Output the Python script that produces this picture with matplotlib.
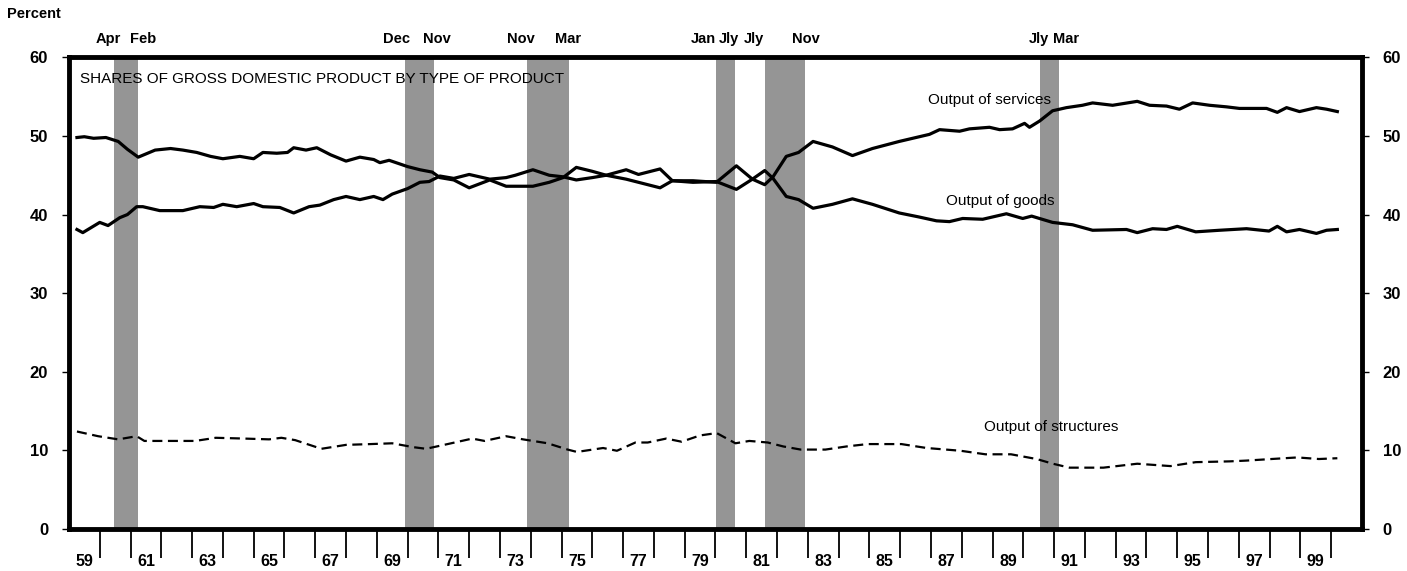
import numpy as np
import matplotlib.pyplot as plt

plt.rcParams['font.family'] = ['Liberation Sans', 'DejaVu Sans']

# recession periods (decimal years) and the month labels printed above them
rec_start = [1960.45, 1969.93, 1973.87, 1980.03, 1981.60, 1990.55]
rec_end = [1961.25, 1970.85, 1975.25, 1980.65, 1982.92, 1991.15]
month_labels = ['Apr', 'Feb', 'Dec', 'Nov', 'Nov', 'Mar', 'Jan', 'Jly', 'Jly', 'Nov', 'Jly', 'Mar']
month_label_x = [1960.27, 1961.40, 1969.65, 1970.95, 1973.68, 1975.20,
                 1980.00, 1980.10, 1981.25, 1982.93, 1990.50, 1991.40]
month_label_ha = ['center', 'center', 'center', 'center', 'center', 'center',
                  'right', 'left', 'center', 'center', 'center', 'center']

# output of services, percent of GDP
svc_t = [1959.26, 1959.45, 1960.0, 1960.27, 1960.65, 1960.9, 1961.2, 1961.4, 1961.95, 1962.7,
         1963.25, 1963.7, 1964.0, 1964.45, 1965.0, 1965.3, 1965.85, 1966.3, 1966.8, 1967.15,
         1967.6, 1968.0, 1968.45, 1968.9, 1969.2, 1969.5, 1970.0, 1970.4, 1970.7, 1971.05,
         1971.5, 1972.0, 1972.67, 1973.2, 1973.5, 1974.07, 1974.6, 1975.05, 1975.48, 1976.0,
         1976.45, 1977.1, 1977.5, 1978.2, 1978.6, 1979.27, 1980.03, 1980.68, 1981.2, 1981.6,
         1981.87, 1982.3, 1982.7, 1983.17, 1983.8, 1984.45, 1985.1, 1985.97, 1986.95, 1987.28,
         1987.93, 1988.25, 1988.9, 1989.23, 1989.65, 1990.04, 1990.2, 1990.53, 1990.95, 1991.4,
         1991.92, 1992.25, 1992.9, 1993.7, 1994.1, 1994.65, 1995.07, 1995.5, 1996.05, 1996.6,
         1997.02, 1997.9, 1998.25, 1998.55, 1998.97, 1999.52, 1999.85, 2000.2]
svc_v = [38.1, 37.7, 39.0, 38.6, 39.6, 40.0, 41.0, 41.0, 40.5, 40.5,
         41.0, 40.9, 41.3, 41.0, 41.4, 41.0, 40.9, 40.2, 41.0, 41.2,
         41.9, 42.3, 41.9, 42.3, 41.9, 42.6, 43.3, 44.1, 44.2, 44.9,
         44.6, 45.1, 44.5, 44.7, 45.0, 45.7, 45.0, 44.8, 44.4, 44.7,
         45.0, 44.5, 44.1, 43.4, 44.3, 44.3, 44.1, 46.2, 44.5, 43.8,
         44.8, 47.4, 47.9, 49.3, 48.6, 47.5, 48.4, 49.3, 50.2, 50.8,
         50.6, 50.9, 51.1, 50.8, 50.9, 51.6, 51.1, 51.9, 53.2, 53.6,
         53.9, 54.2, 53.9, 54.4, 53.9, 53.8, 53.4, 54.2, 53.9, 53.7,
         53.5, 53.5, 53.0, 53.6, 53.1, 53.6, 53.4, 53.1]

# output of goods, percent of GDP
gds_t = [1959.26, 1959.5, 1959.8, 1960.2, 1960.6, 1960.9, 1961.25, 1961.8, 1962.3, 1962.7,
         1963.15, 1963.6, 1964.0, 1964.55, 1965.0, 1965.3, 1965.75, 1966.1, 1966.3, 1966.7,
         1967.05, 1967.5, 1968.0, 1968.45, 1968.9, 1969.1, 1969.4, 1970.0, 1970.4, 1970.8,
         1971.05, 1971.5, 1972.0, 1972.67, 1973.2, 1973.5, 1974.07, 1974.6, 1975.05, 1975.48,
         1976.0, 1976.45, 1977.1, 1977.5, 1978.2, 1978.6, 1979.27, 1980.03, 1980.68, 1981.2,
         1981.6, 1981.87, 1982.3, 1982.7, 1983.17, 1983.8, 1984.45, 1985.1, 1985.97, 1986.6,
         1987.18, 1987.6, 1988.03, 1988.68, 1989.45, 1989.98, 1990.27, 1990.95, 1991.6, 1992.25,
         1993.35, 1993.7, 1994.2, 1994.65, 1995.0, 1995.6, 1996.37, 1997.25, 1997.98, 1998.25,
         1998.55, 1998.97, 1999.52, 1999.85, 2000.2]
gds_v = [49.8, 49.9, 49.7, 49.8, 49.3, 48.3, 47.3, 48.2, 48.4, 48.2,
         47.9, 47.4, 47.1, 47.4, 47.1, 47.9, 47.8, 47.9, 48.5, 48.2,
         48.5, 47.6, 46.8, 47.3, 47.0, 46.6, 46.9, 46.1, 45.7, 45.4,
         44.7, 44.4, 43.4, 44.4, 43.6, 43.6, 43.6, 44.1, 44.7, 46.0,
         45.5, 45.0, 45.7, 45.1, 45.8, 44.3, 44.1, 44.2, 43.2, 44.5,
         45.6, 44.6, 42.3, 41.9, 40.8, 41.3, 42.0, 41.3, 40.2, 39.7,
         39.2, 39.1, 39.5, 39.4, 40.1, 39.5, 39.8, 39.0, 38.7, 38.0,
         38.1, 37.7, 38.2, 38.1, 38.5, 37.8, 38.0, 38.2, 37.9, 38.5,
         37.8, 38.1, 37.6, 38.0, 38.1]

# output of structures, percent of GDP
str_t = [1959.26, 1959.95, 1960.6, 1961.2, 1961.45, 1962.4, 1963.1, 1963.77, 1964.7, 1965.5,
         1965.9, 1966.35, 1967.2, 1968.0, 1968.8, 1969.5, 1970.2, 1970.6, 1971.3, 1972.1,
         1972.5, 1973.2, 1973.75, 1974.55, 1975.2, 1975.5, 1976.35, 1976.8, 1977.4, 1977.8,
         1978.4, 1978.9, 1979.5, 1980.04, 1980.65, 1981.1, 1981.7, 1982.2, 1982.77, 1983.57,
         1984.26, 1984.94, 1986.04, 1986.86, 1987.96, 1988.77, 1989.6, 1990.43, 1990.96, 1991.5,
         1992.6, 1993.7, 1994.78, 1995.6, 1996.7, 1997.25, 1998.06, 1998.9, 1999.6, 2000.2]
str_v = [12.4, 11.8, 11.4, 11.8, 11.2, 11.2, 11.2, 11.6, 11.5, 11.4,
         11.6, 11.3, 10.2, 10.7, 10.8, 10.9, 10.4, 10.2, 10.8, 11.5,
         11.2, 11.8, 11.4, 10.9, 10.1, 9.8, 10.3, 9.95, 11.0, 11.0,
         11.5, 11.1, 11.9, 12.2, 10.9, 11.2, 11.0, 10.5, 10.1, 10.1,
         10.5, 10.8, 10.8, 10.3, 9.95, 9.5, 9.5, 8.9, 8.3, 7.8,
         7.8, 8.3, 8.0, 8.5, 8.6, 8.7, 8.9, 9.1, 8.9, 9.0]

fig = plt.figure(figsize=(14.07, 5.71), dpi=100)
ax = fig.add_axes([0.049, 0.0736, 0.919, 0.826])

for s, e in zip(rec_start, rec_end):
    ax.axvspan(s, e, facecolor='#959595', edgecolor='none', zorder=1)

ax.plot(svc_t, svc_v, color='black', lw=2.3, zorder=3)
ax.plot(gds_t, gds_v, color='black', lw=2.3, zorder=3)
ax.plot(str_t, str_v, color='black', lw=1.6, dashes=(4.5, 2.5), zorder=3)

ax.set_xlim(1959, 2001)
ax.set_ylim(0, 60)

for sp in ax.spines.values():
    sp.set_linewidth(3.5)

# year ticks: one per year boundary, labels centered within odd years
ax.set_xticks(np.arange(1960, 2001))
ax.set_xticklabels([])
ax.tick_params(axis='x', which='major', direction='out', length=21, width=1.3)
odd_years = np.arange(1959, 2000, 2)
ax.set_xticks(odd_years + 0.5, minor=True)
ax.set_xticklabels(['%02d' % (y % 100) for y in odd_years], minor=True,
                   fontsize=11.5, fontweight='bold')
ax.tick_params(axis='x', which='minor', length=0, pad=18)

ax.set_yticks(np.arange(0, 61, 10))
ax.tick_params(axis='y', which='major', direction='out', length=5, width=1,
               right=True, labelright=True, labelsize=12, pad=10)
for lab in ax.get_yticklabels():
    lab.set_fontweight('bold')

fig.text(0.005, 0.975, 'Percent', fontsize=10.5, fontweight='bold', va='center', ha='left')

for lab, x, ha in zip(month_labels, month_label_x, month_label_ha):
    ax.text(x, 62.3, lab, ha=ha, va='center', fontsize=10.5, fontweight='bold',
            clip_on=False)

ax.text(1959.35, 57.2, 'SHARES OF GROSS DOMESTIC PRODUCT BY TYPE OF PRODUCT',
        fontsize=11, va='center', ha='left', zorder=4)
ax.text(1990.9, 54.6, 'Output of services', fontsize=11, va='center', ha='right', zorder=4)
ax.text(1991.0, 41.7, 'Output of goods', fontsize=11, va='center', ha='right', zorder=4)
ax.text(1993.1, 13.0, 'Output of structures', fontsize=11, va='center', ha='right', zorder=4)

fig.savefig('out.png', dpi=100)
